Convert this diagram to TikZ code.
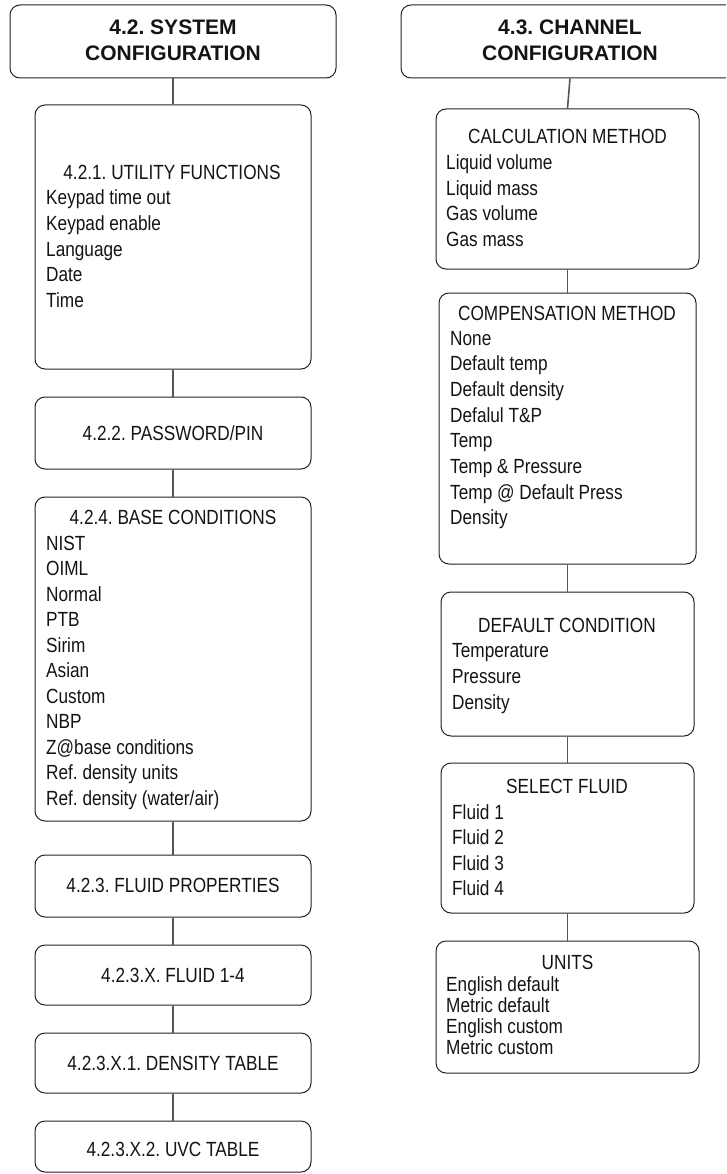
\documentclass[tikz,border=0pt]{standalone}
\usepackage{fontspec}
\setmainfont{Liberation Sans}[FakeStretch=0.84]
\newfontfamily\headfont{Liberation Sans}
\definecolor{boxc}{RGB}{34,34,34}
\definecolor{connc}{RGB}{85,85,85}
\definecolor{txtc}{RGB}{20,20,20}
\frenchspacing
\begin{document}
\begin{tikzpicture}[x=1pt,y=-1pt,
  box/.style={draw=boxc, line width=1pt, rounded corners=10pt, inner sep=0pt},
  conn/.style={draw=connc, line width=1.6pt},
  head/.style={inner sep=0pt, anchor=base, text=txtc, font=\headfont\bfseries\fontsize{21}{26}\selectfont},
  ttl/.style={inner sep=0pt, anchor=base, text=txtc, font=\fontsize{20.5}{25.5}\selectfont},
  item/.style={inner sep=0pt, anchor=base west, text=txtc, font=\fontsize{20.5}{25.5}\selectfont}]
\useasboundingbox (0,0) rectangle (726,1174);
\clip (0,0) rectangle (726,1174);

% ---- boxes, left column ----
\node[box, minimum width=326pt, minimum height=73pt]  (L0) at (173,41.5) {};
\node[box, minimum width=276pt, minimum height=264pt] (L1) at (173,237) {};
\node[box, minimum width=276pt, minimum height=72pt]  (L2) at (173,433) {};
\node[box, minimum width=276pt, minimum height=324pt] (L3) at (173,659) {};
\node[box, minimum width=276pt, minimum height=62pt]  (L4) at (173,886) {};
\node[box, minimum width=276pt, minimum height=60pt]  (L5) at (173,975) {};
\node[box, minimum width=276pt, minimum height=60pt]  (L6) at (173,1063) {};
\node[box, minimum width=276pt, minimum height=51pt]  (L7) at (173,1146.5) {};

% ---- boxes, right column ----
\node[box, minimum width=338pt, minimum height=73pt]  (R0) at (570,41.5) {};
\node[box, minimum width=263pt, minimum height=160pt] (R1) at (567.5,189) {};
\node[box, minimum width=257pt, minimum height=271pt] (R2) at (567.5,428.5) {};
\node[box, minimum width=253pt, minimum height=144pt] (R3) at (567.5,664) {};
\node[box, minimum width=253pt, minimum height=150pt] (R4) at (567.5,838) {};
\node[box, minimum width=263pt, minimum height=132pt] (R5) at (567.5,1007) {};

% ---- connectors ----
\foreach \a/\b in {L0/L1,L1/L2,L2/L3,L3/L4,L4/L5,L5/L6,L6/L7,R0/R1,R1/R2,R2/R3,R3/R4,R4/R5}
  \draw[conn] (\a.south) -- (\b.north);

% ---- headings ----
\node[head] (L0a) at (173,35) {4.2. SYSTEM};
\node[head] (L0b) at (173,61) {CONFIGURATION};
\node[head] (R0a) at (570,35) {4.3. CHANNEL};
\node[head] (R0b) at (570,61) {CONFIGURATION};

% ---- left column texts ----
\node[ttl] (L1t) at (172,180) {4.2.1. UTILITY FUNCTIONS};
\foreach \t [count=\i] in {Keypad time out, Keypad enable, Language, Date, Time}
  \node[item] (L1i\i) at (46,{205+25.5*(\i-1)}) {\t};

\node[ttl] (L2t) at (173,440) {4.2.2. PASSWORD/PIN};

\node[ttl] (L3t) at (173,524) {4.2.4. BASE CONDITIONS};
\foreach \t [count=\i] in {NIST, OIML, Normal, PTB, Sirim, Asian, Custom, NBP,
    Z@base conditions, Ref. density units, Ref. density (water/air)}
  \node[item] (L3i\i) at (46,{550+25.5*(\i-1)}) {\t};

\node[ttl] (L4t) at (173,892) {4.2.3. FLUID PROPERTIES};
\node[ttl] (L5t) at (173,982) {4.2.3.X. FLUID 1-4};
\node[ttl] (L6t) at (173,1070.5) {4.2.3.X.1. DENSITY TABLE};
\node[ttl] (L7t) at (173,1156.5) {4.2.3.X.2. UVC TABLE};

% ---- right column texts ----
\node[ttl] (R1t) at (567.5,144) {CALCULATION METHOD};
\foreach \t [count=\i] in {Liquid volume, Liquid mass, Gas volume, Gas mass}
  \node[item] (R1i\i) at (446,{170+25.5*(\i-1)}) {\t};

\node[ttl] (R2t) at (567,320) {COMPENSATION METHOD};
\foreach \t [count=\i] in {None, Default temp, Default density, Defalul T\&P, Temp,
    Temp \& Pressure, Temp @ Default Press, Density}
  \node[item] (R2i\i) at (450,{345+25.7*(\i-1)}) {\t};

\node[ttl] (R3t) at (567,632) {DEFAULT CONDITION};
\foreach \t [count=\i] in {Temperature, Pressure, Density}
  \node[item] (R3i\i) at (452,{657+26*(\i-1)}) {\t};

\node[ttl] (R4t) at (567,793) {SELECT FLUID};
\foreach \t [count=\i] in {Fluid 1, Fluid 2, Fluid 3, Fluid 4}
  \node[item] (R4i\i) at (452,{819+25.6*(\i-1)}) {\t};

\node[ttl] (R5t) at (567.5,969) {UNITS};
\foreach \t [count=\i] in {English default, Metric default, English custom, Metric custom}
  \node[item] (R5i\i) at (446,{991+21.3*(\i-1)}) {\t};
\end{tikzpicture}
\end{document}
